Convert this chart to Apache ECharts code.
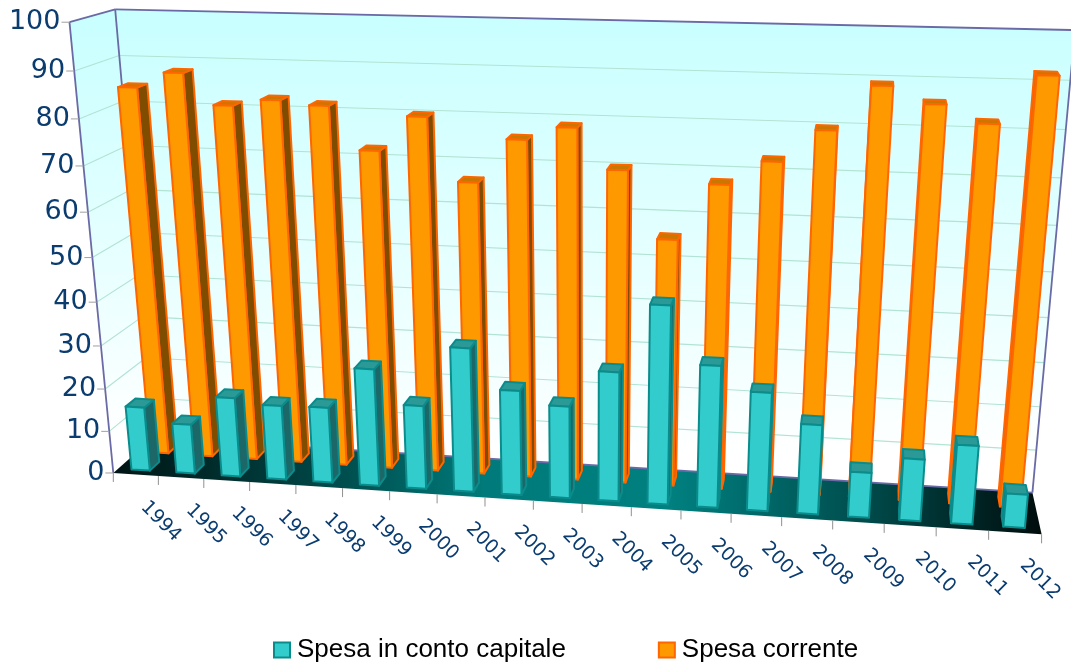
<!DOCTYPE html>
<html><head><meta charset="utf-8">
<style>html,body{margin:0;padding:0;background:#fff}#c{width:1071px;height:667px}</style>
<script src="https://cdn.jsdelivr.net/npm/echarts@6/dist/echarts.min.js"></script>
</head><body><div id="c"></div>
<script>
const years=['1994','1995','1996','1997','1998','1999','2000','2001','2002','2003','2004','2005','2006','2007','2008','2009','2010','2011','2012'];
const capitale=[15.1,11.7,18.6,17.4,17.6,27.1,19.3,33,24,21.1,29.4,44.6,32,26.7,20.2,10.2,13.9,17.6,7.5];
const corrente=[84.6,88,81.3,82.8,81.9,72.6,80.2,66.5,76,78.9,70.3,55.8,68,73.2,80,89.3,85.9,82.3,92.2];
const yTicks=[0,10,20,30,40,50,60,70,80,90,100];

// camera fit: [X,Y,Z] of the plot box -> picture position
const anchors=[
 [[0,0,0],[112,474]],[[0,0,1],[154.5,437]],[[0,1,1],[114,9]],[[0,1,0],[70,22.5]],
 [[1,0,1],[1032,494]],[[1,1,1],[1075,30]],[[1,0,0],[1042,533]],
 [[0,.9,0],[75,71.3]],[[0,.1,0],[109,431]]
];
function fitCamera(){
 const A=[],b=[];
 anchors.forEach(([w,s])=>{const [X,Y,Z]=w,u=s[0]/1000,v=s[1]/1000;
  A.push([X,Y,Z,1,0,0,0,0,-u*X,-u*Y,-u*Z]);b.push(u);
  A.push([0,0,0,0,X,Y,Z,1,-v*X,-v*Y,-v*Z]);b.push(v);});
 const n=11,M=[];
 for(let i=0;i<n;i++){const r=[];for(let j=0;j<n;j++){let s=0;A.forEach(a=>s+=a[i]*a[j]);r.push(s);}
  let s=0;A.forEach((a,k)=>s+=a[i]*b[k]);r.push(s);M.push(r);}
 for(let i=0;i<n;i++){let p=i;for(let k=i+1;k<n;k++)if(Math.abs(M[k][i])>Math.abs(M[p][i]))p=k;
  [M[i],M[p]]=[M[p],M[i]];
  for(let k=0;k<n;k++)if(k!==i){const f=M[k][i]/M[i][i];for(let j=i;j<=n;j++)M[k][j]-=f*M[i][j];}}
 return M.map((r,i)=>r[n]/r[i]);
}
const C=fitCamera();
function P(X,Y,Z){const d=C[8]*X+C[9]*Y+C[10]*Z+1;
 return [1000*(C[0]*X+C[1]*Y+C[2]*Z+C[3])/d,1000*(C[4]*X+C[5]*Y+C[6]*Z+C[7])/d];}

function norm(cs,p){return [(p[0]-cs.x)/cs.width,(cs.y+cs.height-p[1])/cs.height];}
function area(q){let s=0;for(let i=0;i<q.length;i++){const a=q[i],b=q[(i+1)%q.length];s+=a[0]*b[1]-b[0]*a[1];}return s;}
function poly(points,fill,stroke,lw){return {type:'polygon',shape:{points},style:{fill,stroke:stroke||null,lineWidth:lw||0,lineJoin:'round'}};}
function line(a,b,stroke,lw){return {type:'line',shape:{x1:a[0],y1:a[1],x2:b[0],y2:b[1]},style:{stroke,lineWidth:lw}};}

function barItem(z0,z1,col){return function(params,api){
 const cs=params.coordSys,i=api.value(0),v=api.value(1);
 const top=norm(cs,api.coord([i,v]));
 const hw=0.41*api.size([1,0])[0]/cs.width/2;
 const x0=top[0]-hw,x1=top[0]+hw,y1=top[1];
 const f=(x,y,z)=>P(x,y,z);
 const faces=[
  [[f(x0,0,z1),f(x0,0,z0),f(x0,y1,z0),f(x0,y1,z1)],col.left],
  [[f(x1,0,z0),f(x1,0,z1),f(x1,y1,z1),f(x1,y1,z0)],col.right],
  [[f(x0,y1,z0),f(x1,y1,z0),f(x1,y1,z1),f(x0,y1,z1)],col.top],
  [[f(x0,0,z0),f(x1,0,z0),f(x1,y1,z0),f(x0,y1,z0)],col.front]
 ];
 return {type:'group',children:faces.filter(q=>area(q[0])<0).map(q=>poly(q[0],q[1],col.border,col.lw))};
};}

function wallItem(params,api){
 const cs=params.coordSys,ch=[];
 const wall={type:'linear',x:0,y:0,x2:0,y2:1,colorStops:[{offset:0,color:'#c8ffff'},{offset:.55,color:'#e8ffff'},{offset:.92,color:'#ffffff'},{offset:1,color:'#ffffff'}]};
 ch.push(poly([P(0,0,0),P(0,0,1),P(0,1,1),P(0,1,0)],wall));
 ch.push(poly([P(0,0,1),P(1,0,1),P(1,1,1),P(0,1,1)],wall));
 yTicks.forEach(t=>{const v=norm(cs,api.coord([0,t]))[1];
  if(t>0&&t<100){ch.push(line(P(0,v,0),P(0,v,1),'#b2e3d3',1.1));ch.push(line(P(0,v,1),P(1,v,1),'#b2e3d3',1.1));}
 });
 ch.push(poly([P(0,0,0),P(1,0,0),P(1,0,1),P(0,0,1)],{type:'linear',x:0,y:0,x2:1,y2:0,colorStops:[{offset:0,color:'#001414'},{offset:.2,color:'#004040'},{offset:.4,color:'#007a7a'},{offset:.6,color:'#008080'},{offset:.8,color:'#004f4f'},{offset:1,color:'#000c0c'}]}));
 const frame='#6a6aa6';
 ch.push(line(P(0,0,0),P(0,1,0),frame,1.8));
 ch.push(line(P(0,1,0),P(0,1,1),frame,1.8));
 ch.push(line(P(0,1,1),P(0,0,1),frame,1.8));
 ch.push(line(P(0,1,1),P(1,1,1),frame,1.8));
 ch.push(line(P(1,1,1),P(1,0,1),frame,1.8));
 ch.push(line(P(0,0,1),P(1,0,1),frame,1.8));
 return {type:'group',children:ch};
}

function axisItem(params,api){
 const cs=params.coordSys,ch=[];
 yTicks.forEach(t=>{const v=norm(cs,api.coord([0,t]))[1],p=P(0,v,0);
  ch.push(line([p[0]-8,p[1]],p,'#a0a0a0',1));
  ch.push({type:'text',x:p[0]-9,y:p[1],style:{text:String(t),align:'right',verticalAlign:'middle',font:'27px "DejaVu Sans"',fill:'#0b3c70'}});
 });
 const band=api.size([1,0])[0]/cs.width;
 for(let i=0;i<=years.length;i++){const u=i*band,p=P(u,0,0);ch.push(line(p,[p[0],p[1]+9],'#909090',1));}
 years.forEach((y,i)=>{const u=norm(cs,api.coord([i,0]))[0],p=P(u,0,0);
  ch.push({type:'text',x:p[0]+25,y:p[1]+47,rotation:-Math.PI/4,style:{text:y,x:0,y:0,align:'center',verticalAlign:'middle',font:'19px "DejaVu Sans"',fill:'#0b3c70'}});
 });
 return {type:'group',children:ch};
}

const orangeCol={front:'#ff9900',right:'#7f4c00',left:'#e06800',top:'#c87800',border:'#ff6600',lw:2};
const tealCol={front:'#33cccc',right:'#1c6868',left:'#0b7f7f',top:'#2b9a96',border:'#0b8c8c',lw:2};
const toData=a=>a.map((v,i)=>[i,v]);

const chart=echarts.init(document.getElementById('c'),null,{renderer:'canvas'});
chart.setOption({
 animation:false,
 grid:{left:0,right:0,top:0,bottom:0},
 xAxis:{type:'category',data:years,show:false},
 yAxis:{type:'value',min:0,max:100,interval:10,show:false},
 legend:{left:273,top:637,padding:0,data:['Spesa in conto capitale','Spesa corrente'],icon:'rect',itemWidth:16,itemHeight:15,itemGap:92,
  textStyle:{fontFamily:'"Liberation Sans"',fontSize:26,color:'#000',padding:[0,0,0,2]},selectedMode:false},
 series:[
  {type:'custom',name:'walls',silent:true,clip:false,coordinateSystem:'cartesian2d',data:[[0,0]],renderItem:wallItem,z:1},
  {type:'custom',name:'Spesa corrente',clip:false,data:toData(corrente),renderItem:barItem(.60,.84,orangeCol),encode:{x:0,y:1},itemStyle:{color:'#ff9900',borderColor:'#ff6600',borderWidth:1.5},z:2},
  {type:'custom',name:'Spesa in conto capitale',clip:false,data:toData(capitale),renderItem:barItem(.12,.36,tealCol),encode:{x:0,y:1},itemStyle:{color:'#33cccc',borderColor:'#0b8c8c',borderWidth:1.5},z:3},
  {type:'custom',name:'axes',silent:true,clip:false,data:[[0,0]],renderItem:axisItem,z:4}
 ]
});
</script></body></html>
